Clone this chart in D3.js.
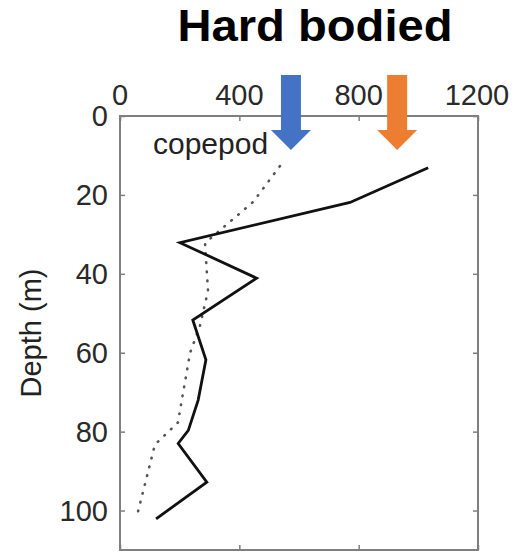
<!DOCTYPE html>
<html>
<head>
<meta charset="utf-8">
<script src="https://cdn.jsdelivr.net/npm/d3@7"></script>
<style>
  html, body { margin: 0; padding: 0; background: #fff; }
  svg { display: block; }
  text { font-family: "Liberation Sans", Arial, Helvetica, sans-serif; }
</style>
</head>
<body>
<svg id="chart" width="513" height="553"></svg>
<script>
// ---- data ----
const title = "Hard bodied";
const yLabel = "Depth (m)";
const seriesLabel = "copepod";
const xTicks = [0, 400, 800, 1200];
const yTicks = [0, 20, 40, 60, 80, 100];

// solid line (hard bodied)
const solidDepth = [13.1, 21.9, 32.1, 41.1, 51.7, 61.8, 72, 79.7, 83.0, 92.8, 102.1];
const solidValue = [1033, 771, 201, 458, 244, 288, 262, 229, 195, 291, 121];

// dotted line (copepod)
const dotDepth = [12.7, 21.8, 32.2, 44.3, 53.2, 60.0, 77.7, 83.3, 101.3];
const dotValue = [536, 446, 285, 295, 268, 235, 194, 117, 57];

// arrow annotations (x value they point at)
const arrowValues = [573, 929];
const arrowColors = ["#4472C4", "#ED7D31"];

// ---- layout ----
const svg = d3.select("#chart");
const mLeft = 120, mRight = 478, mTop = 116, mBottom = 550;

const x = d3.scaleLinear().domain([0, 1200]).range([mLeft, mRight]);
const y = d3.scaleLinear().domain([0, 110]).range([mTop, mBottom]);

// title
svg.append("text")
  .attr("x", 315).attr("y", 41)
  .attr("text-anchor", "middle")
  .attr("font-size", 44)
  .attr("font-weight", "bold")
  .attr("fill", "#000")
  .attr("textLength", 275)
  .attr("lengthAdjust", "spacingAndGlyphs")
  .text(title);

// box
const axisColor = "#7f7f7f";
svg.append("rect")
  .attr("x", mLeft).attr("y", mTop)
  .attr("width", mRight - mLeft).attr("height", mBottom - mTop)
  .attr("fill", "none").attr("stroke", axisColor).attr("stroke-width", 2);

// axes (ticks inward)
const xTop = d3.axisTop(x).tickValues(xTicks).tickSize(-5).tickFormat("");
const xBot = d3.axisBottom(x).tickValues(xTicks).tickSize(-5).tickFormat("");
const yL = d3.axisLeft(y).tickValues(yTicks).tickSize(-5).tickFormat("");
const yR = d3.axisRight(y).tickValues(yTicks).tickSize(-5).tickFormat("");
[[xTop, `translate(0,${mTop})`], [xBot, `translate(0,${mBottom})`],
 [yL, `translate(${mLeft},0)`], [yR, `translate(${mRight},0)`]].forEach(([ax, tr]) => {
  const g = svg.append("g").attr("transform", tr).call(ax);
  g.select(".domain").remove();
  g.selectAll(".tick line").attr("stroke", axisColor).attr("stroke-width", 1.5);
});

// tick labels
svg.append("g").selectAll("text").data(xTicks).join("text")
  .attr("x", d => d === 1200 ? x(d) - 1 : x(d))
  .attr("y", 105)
  .attr("text-anchor", "middle")
  .attr("font-size", 29)
  .attr("fill", "#2a2a2a")
  .text(d => d);

svg.append("g").selectAll("text").data(yTicks).join("text")
  .attr("x", 108)
  .attr("y", d => y(d))
  .attr("dy", "0.36em")
  .attr("text-anchor", "end")
  .attr("font-size", 29)
  .attr("fill", "#2a2a2a")
  .text(d => d);

// y label
svg.append("text")
  .attr("transform", `translate(41,333) rotate(-90)`)
  .attr("text-anchor", "middle")
  .attr("font-size", 29)
  .attr("fill", "#222")
  .text(yLabel);

// lines
const line = d3.line().x(d => x(d[0])).y(d => y(d[1]));
const solidPts = solidDepth.map((d, i) => [solidValue[i], d]);
const dotPts = dotDepth.map((d, i) => [dotValue[i], d]);

svg.append("path").datum(dotPts)
  .attr("d", line)
  .attr("fill", "none")
  .attr("stroke", "#555")
  .attr("stroke-width", 2.6)
  .attr("stroke-linecap", "round")
  .attr("stroke-dasharray", "0.6,8.5");

svg.append("path").datum(solidPts)
  .attr("d", line)
  .attr("fill", "none")
  .attr("stroke", "#111")
  .attr("stroke-width", 2.8)
  .attr("stroke-linejoin", "miter");

// series label
svg.append("text")
  .attr("x", 153).attr("y", 154)
  .attr("font-size", 30)
  .attr("fill", "#222")
  .text(seriesLabel);

// arrows
const shaftW = 20, headW = 40, headH = 20, arrowTop = 75, arrowTip = 150;
svg.append("g").selectAll("path").data(arrowValues).join("path")
  .attr("d", v => {
    const cx = x(v);
    const hb = arrowTip - headH;
    return `M${cx - shaftW/2},${arrowTop} L${cx + shaftW/2},${arrowTop} L${cx + shaftW/2},${hb} L${cx + headW/2},${hb} L${cx},${arrowTip} L${cx - headW/2},${hb} L${cx - shaftW/2},${hb} Z`;
  })
  .attr("fill", (v, i) => arrowColors[i]);
</script>
</body>
</html>
